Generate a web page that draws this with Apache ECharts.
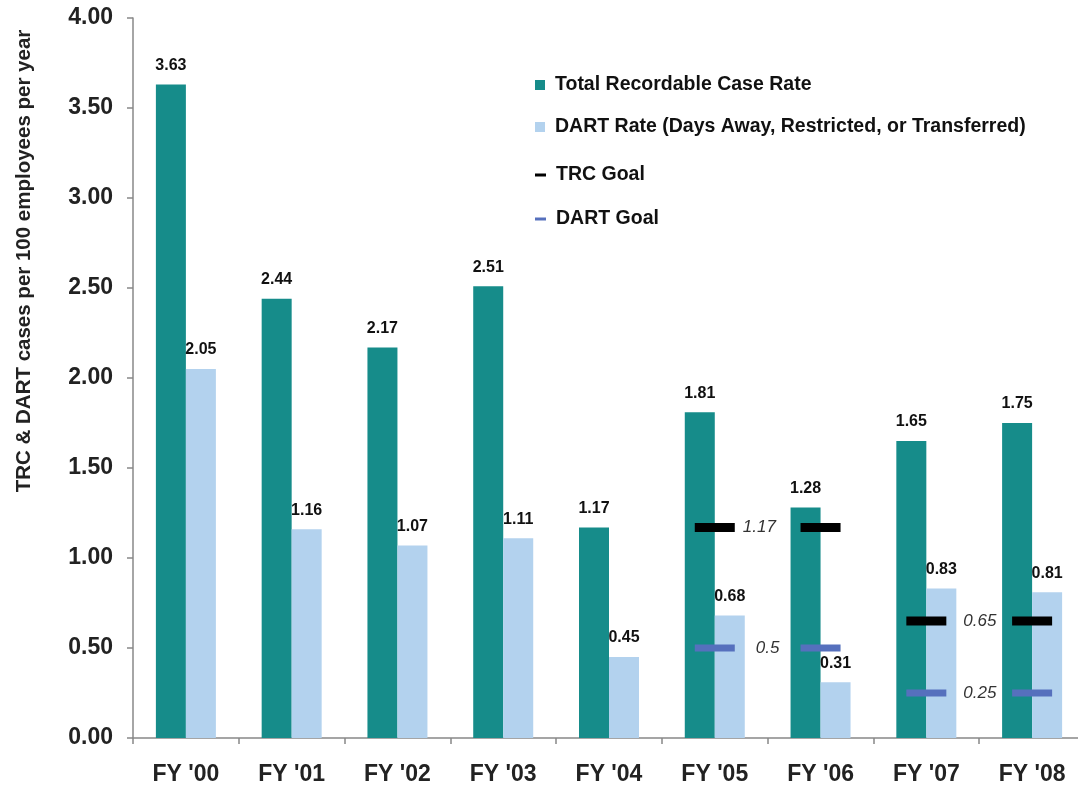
<!DOCTYPE html>
<html>
<head>
<meta charset="utf-8">
<script src="https://cdn.jsdelivr.net/npm/echarts@6/dist/echarts.min.js"></script>
<style>html,body{margin:0;padding:0;background:#fff;overflow:hidden;}#main{width:1085px;height:786px;}</style>
</head>
<body>
<div id="main"></div>
<script>
const categories = ["FY '00", "FY '01", "FY '02", "FY '03", "FY '04", "FY '05", "FY '06", "FY '07", "FY '08"];
const trcRate = [3.63, 2.44, 2.17, 2.51, 1.17, 1.81, 1.28, 1.65, 1.75];
const dartRate = [2.05, 1.16, 1.07, 1.11, 0.45, 0.68, 0.31, 0.83, 0.81];
const trcGoal = [null, null, null, null, null, 1.17, 1.17, 0.65, 0.65];
const dartGoal = [null, null, null, null, null, 0.5, 0.5, 0.25, 0.25];
const goalLabelIdx = [5, 7];
const yTicks = [0, 4, 0.5];

const FONT = "'Liberation Sans', Arial, sans-serif";
const chart = echarts.init(document.getElementById('main'));

function goalData(arr, dists) {
  return arr.map((v, i) => {
    const k = goalLabelIdx.indexOf(i);
    if (v === null) return null;
    if (k >= 0) {
      return { value: v, label: { show: true, position: 'right', distance: dists[k],
        formatter: String(v), fontFamily: FONT, fontStyle: 'italic', fontSize: 17, color: '#333' } };
    }
    return v;
  });
}

const legendBase = {
  orient: 'vertical', left: 530, selectedMode: false, icon: 'rect',
  textStyle: { fontFamily: FONT, fontWeight: 'bold', fontSize: 19.5, color: '#111', padding: [0, 0, 0, 5] }
};

chart.setOption({
  animation: false,
  backgroundColor: '#fff',
  grid: { left: 133, top: 18, right: 0, bottom: 48, containLabel: false },
  legend: [
    Object.assign({}, legendBase, { top: 70, itemWidth: 10, itemHeight: 10, data: ['Total Recordable Case Rate'] }),
    Object.assign({}, legendBase, { top: 112, itemWidth: 10, itemHeight: 10, data: ['DART Rate (Days Away, Restricted, or Transferred)'] }),
    Object.assign({}, legendBase, { top: 160, itemWidth: 11, itemHeight: 3, data: ['TRC Goal'] }),
    Object.assign({}, legendBase, { top: 204, itemWidth: 11, itemHeight: 3, data: ['DART Goal'] })
  ],
  graphic: [{
    type: 'text', x: 24, y: 261, rotation: Math.PI / 2,
    style: { text: 'TRC & DART cases per 100 employees per year', font: "bold 20.5px 'Liberation Sans', Arial, sans-serif",
      fill: '#222', textAlign: 'center', textVerticalAlign: 'middle' }
  }],
  xAxis: {
    type: 'category', data: categories,
    axisLine: { lineStyle: { color: '#888', width: 1.5 } },
    axisTick: { show: true, length: 6, lineStyle: { color: '#888', width: 1.5 } },
    axisLabel: { margin: 25, fontFamily: FONT, fontWeight: 'bold', fontSize: 23, color: '#222' }
  },
  yAxis: {
    type: 'value', min: yTicks[0], max: yTicks[1], interval: yTicks[2],
    splitLine: { show: false },
    axisLine: { show: true, lineStyle: { color: '#888', width: 1.5 } },
    axisTick: { show: true, length: 6, lineStyle: { color: '#888', width: 1.5 } },
    axisLabel: { margin: 20, fontFamily: FONT, fontWeight: 'bold', fontSize: 23, color: '#222',
      formatter: v => v.toFixed(2) }
  },
  series: [
    { name: 'Total Recordable Case Rate', type: 'bar', data: trcRate, barWidth: 30, barGap: '0%',
      itemStyle: { color: '#168C8A' },
      label: { show: true, position: 'top', distance: 11, fontFamily: FONT, fontWeight: 'bold', fontSize: 16, color: '#111',
        formatter: p => p.value.toFixed(2) } },
    { name: 'DART Rate (Days Away, Restricted, or Transferred)', type: 'bar', data: dartRate, barWidth: 30, barGap: '0%',
      itemStyle: { color: '#B3D2EE' },
      label: { show: true, position: 'top', distance: 11, fontFamily: FONT, fontWeight: 'bold', fontSize: 16, color: '#111',
        formatter: p => p.value.toFixed(2) } },
    { name: 'TRC Goal', type: 'scatter', data: goalData(trcGoal, [8, 17]), symbol: 'rect', symbolSize: [40, 9],
      itemStyle: { color: '#000', opacity: 1 }, z: 5 },
    { name: 'DART Goal', type: 'scatter', data: goalData(dartGoal, [21, 17]), symbol: 'rect', symbolSize: [40, 7],
      itemStyle: { color: '#5670BD', opacity: 1 }, z: 5 }
  ]
});
</script>
</body>
</html>
